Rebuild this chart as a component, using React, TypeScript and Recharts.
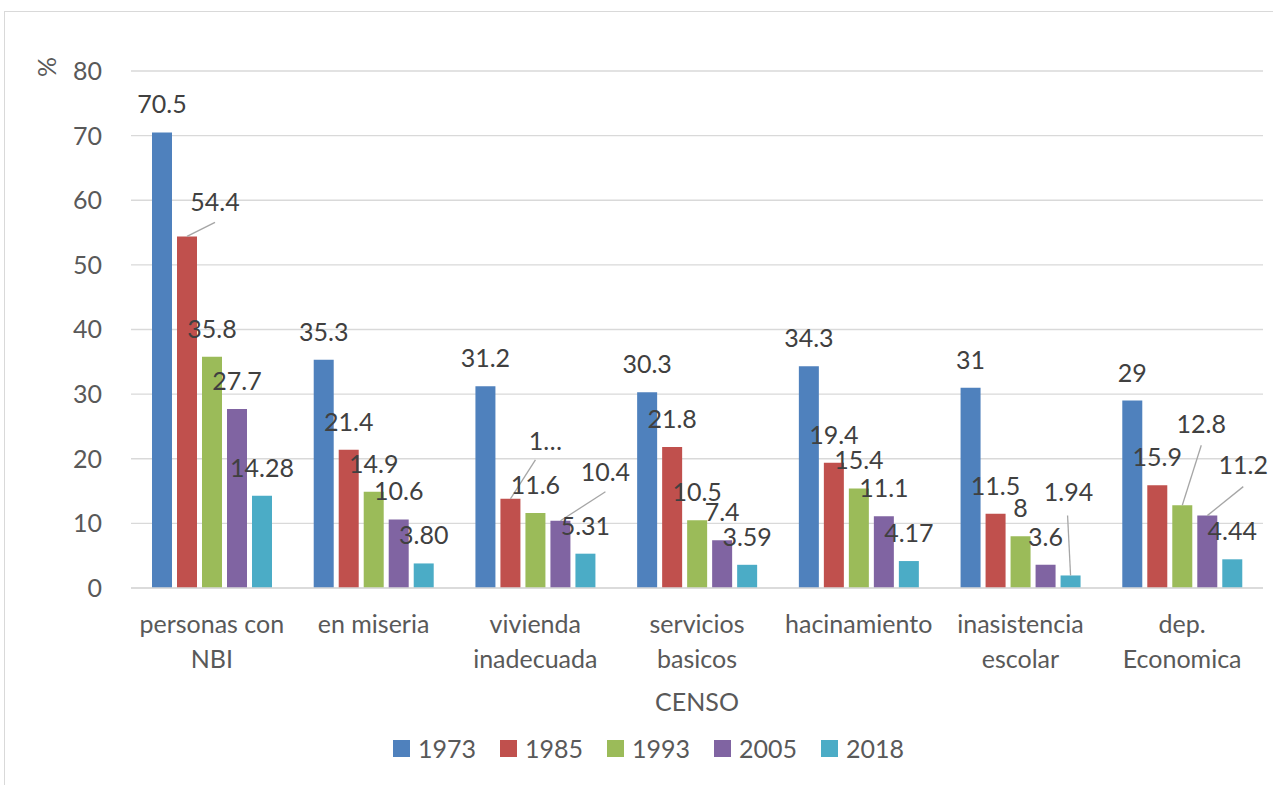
import React from "react";
import {
  BarChart,
  Bar,
  XAxis,
  YAxis,
  CartesianGrid,
  Legend,
  Label,
} from "recharts";

const categories = [
  "personas con NBI",
  "en miseria",
  "vivienda inadecuada",
  "servicios basicos",
  "hacinamiento",
  "inasistencia escolar",
  "dep. Economica",
];
const years = ["1973", "1985", "1993", "2005", "2018"];
const v1973 = [70.5, 35.3, 31.2, 30.3, 34.3, 31, 29];
const v1985 = [54.4, 21.4, 13.8, 21.8, 19.4, 11.5, 15.9];
const v1993 = [35.8, 14.9, 11.6, 10.5, 15.4, 8, 12.8];
const v2005 = [27.7, 10.6, 10.4, 7.4, 11.1, 3.6, 11.2];
const v2018 = [14.28, 3.8, 5.31, 3.59, 4.17, 1.94, 4.44];
const yTicks = [0, 10, 20, 30, 40, 50, 60, 70, 80];

const seriesValues = [v1973, v1985, v1993, v2005, v2018];
const colors = ["#4F81BD", "#C0504D", "#9BBB59", "#8064A2", "#4BACC6"];

const data = categories.map((name, i) => {
  const row: Record<string, string | number> = { name };
  years.forEach((y, s) => {
    row[y] = seriesValues[s][i];
  });
  return row;
});

const FONT = "Lato, 'Liberation Sans', sans-serif";
const AXIS_TEXT = "#595959";
const LABEL_TEXT = "#404040";

// labels that Excel moved away from the bar and tied back with a leader line
// key "series-index": [dx, dy of label centre from bar top centre, leader end dx, dy]
const moved: Record<string, number[]> = {
  "1-0": [28, -34, 0, 20],
  "1-2": [35, -58, -10, 19],
  "3-2": [45, -49, 0, 20],
  "4-5": [-2, -83, -1, 23],
  "2-6": [19, -81, 0, 21],
  "3-6": [36, -51, 0, 22],
};
const shownText: Record<string, string> = { "1-2": "1…" };

const makeLabel = (s: number) => (props: any) => {
  const { x, y, width, value, index } = props;
  const key = `${s}-${index}`;
  const cx = Number(x) + Number(width) / 2;
  const top = Number(y);
  const m = moved[key];
  const lx = cx + (m ? m[0] : 0);
  const lc = top + (m ? m[1] : -28);
  const text =
    shownText[key] ?? (s === 4 ? Number(value).toFixed(2) : String(value));
  return (
    <g>
      {m && (
        <line
          x1={cx}
          y1={top}
          x2={lx + m[2]}
          y2={lc + m[3]}
          stroke="#a6a6a6"
          strokeWidth={1.3}
        />
      )}
      <text
        x={lx}
        y={lc + 9}
        textAnchor="middle"
        fontSize={25}
        fontFamily={FONT}
        fill={LABEL_TEXT}
      >
        {text}
      </text>
    </g>
  );
};

const wrap = (s: string, max = 12) => {
  const lines: string[] = [];
  let cur = "";
  s.split(" ").forEach((w) => {
    const next = cur ? cur + " " + w : w;
    if (next.length > max && cur) {
      lines.push(cur);
      cur = w;
    } else cur = next;
  });
  if (cur) lines.push(cur);
  return lines;
};

const CategoryTick = (props: any) => {
  const { x, y, payload } = props;
  const lines = wrap(String(payload.value));
  return (
    <text
      x={x}
      y={y}
      textAnchor="middle"
      fontSize={25}
      fontFamily={FONT}
      fill={AXIS_TEXT}
    >
      {lines.map((l, i) => (
        <tspan key={i} x={x} dy={i === 0 ? 45 : 35}>
          {l}
        </tspan>
      ))}
    </text>
  );
};

const LegendBox = () => (
  <div
    style={{
      display: "flex",
      justifyContent: "center",
      alignItems: "center",
      height: 30,
      paddingLeft: 34,
      fontFamily: FONT,
      fontSize: 25,
      color: AXIS_TEXT,
    }}
  >
    {years.map((y, i) => (
      <div
        key={y}
        style={{
          display: "flex",
          alignItems: "center",
          width: i === years.length - 1 ? "auto" : 107,
        }}
      >
        <span
          style={{
            width: 17,
            height: 17,
            background: colors[i],
            marginRight: 8,
            display: "inline-block",
          }}
        />
        <span>{y}</span>
      </div>
    ))}
  </div>
);

export default function App() {
  return (
    <div
      style={{
        position: "absolute",
        left: 0,
        top: 0,
        width: 1273,
        height: 785,
        background: "#fff",
        overflow: "hidden",
      }}
    >
      <div
        style={{
          position: "absolute",
          left: 4,
          top: 11,
          width: 1320,
          height: 820,
          border: "1.5px solid #d9d9d9",
        }}
      />
      <div style={{ position: "absolute", left: 0, top: 0 }}>
        <BarChart
          width={1273}
          height={785}
          data={data}
          margin={{ top: 71, right: 10, bottom: 22, left: 0 }}
          barSize={20}
          barGap={5}
        >
          <CartesianGrid
            vertical={false}
            stroke="#d9d9d9"
            strokeWidth={1.4}
          />
          <XAxis
            dataKey="name"
            height={145}
            interval={0}
            tickLine={false}
            tickSize={0}
            tickMargin={0}
            axisLine={{ stroke: "#d9d9d9", strokeWidth: 1.4 }}
            tick={<CategoryTick />}
          >
            <Label
              content={(p: any) => (
                <text
                  x={p.viewBox.x + p.viewBox.width / 2}
                  y={p.viewBox.y + 123}
                  textAnchor="middle"
                  fontSize={25}
                  fontFamily={FONT}
                  fill={AXIS_TEXT}
                >
                  CENSO
                </text>
              )}
            />
          </XAxis>
          <YAxis
            width={131}
            domain={[0, 80]}
            ticks={yTicks}
            interval={0}
            axisLine={false}
            tickLine={false}
            tickSize={0}
            tickMargin={29}
            tick={{ fontSize: 25, fontFamily: FONT, fill: AXIS_TEXT }}
          >
            <Label
              content={(p: any) => {
                const lx = p.viewBox.x + 46;
                const ly = p.viewBox.y - 4;
                return (
                  <text
                    x={lx}
                    y={ly}
                    textAnchor="middle"
                    dominantBaseline="central"
                    transform={`rotate(-90 ${lx} ${ly})`}
                    fontSize={25}
                    fontFamily={FONT}
                    fill={AXIS_TEXT}
                  >
                    %
                  </text>
                );
              }}
            />
          </YAxis>
          {years.map((y, s) => (
            <Bar
              key={y}
              dataKey={y}
              fill={colors[s]}
              isAnimationActive={false}
              label={makeLabel(s)}
            />
          ))}
          <Legend
            verticalAlign="bottom"
            align="center"
            layout="horizontal"
            height={30}
            content={() => <LegendBox />}
          />
        </BarChart>
      </div>
    </div>
  );
}
